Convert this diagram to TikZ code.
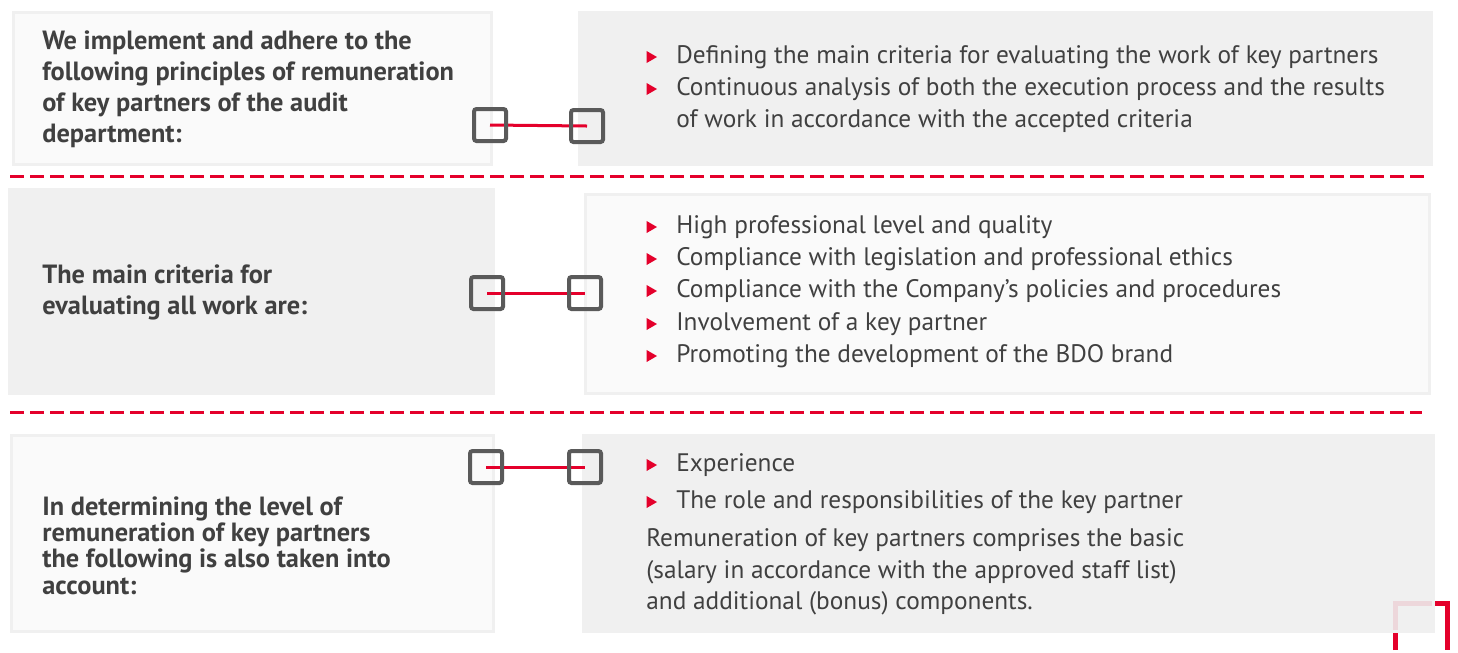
\documentclass[tikz,border=0pt]{standalone}
\usepackage{fontspec}
\setmainfont{PT Sans}
\usepackage{xcolor}
\usetikzlibrary{positioning,shapes.geometric}

\definecolor{bdored}{HTML}{E4002B}
\definecolor{txtgray}{HTML}{404040}
\definecolor{sqgray}{HTML}{5A5A5A}
\definecolor{panelgray}{HTML}{EFEFEF}
\definecolor{panelwhite}{HTML}{FAFAFA}

\pgfdeclarelayer{background}
\pgfdeclarelayer{links}
\pgfsetlayers{background,links,main}

\begin{document}
\begin{tikzpicture}[
    x=0.2mm, y=-0.2mm,
    every node/.style={text=txtgray},
    panel/.style={rectangle, draw=black!6, line width=0.6mm, anchor=north west, inner sep=0pt, fill opacity=0.9},
    lead/.style={font=\bfseries\fontsize{15}{17.8}\selectfont, align=left, anchor=north west, inner sep=0pt},
    item/.style={font=\fontsize{14.4}{18}\selectfont, anchor=base west, inner sep=0pt},
    para/.style={font=\fontsize{14.4}{18.1}\selectfont, align=left, anchor=north west, inner sep=0pt},
    tri/.style={regular polygon, regular polygon sides=3, rotate=-90, fill=bdored, inner sep=0pt, minimum size=2.8mm},
    linkbox/.style={rectangle, draw=sqgray, line width=0.8mm, rounded corners=0.5mm, minimum size=6.4mm, inner sep=0pt},
    link/.style={draw=bdored, line width=0.6mm},
    divider/.style={draw=bdored, line width=0.6mm, dash pattern=on 2.8mm off 1.2mm},
]
    \begin{pgfonlayer}{background}
    \fill[white] (0,0) rectangle (1458,650);
    % corner mark (bottom right)
    \draw[bdored, line width=1mm] (1395,650) -- (1395,603) -- (1447,603) -- (1447,650);

    % ROW 1
    \node[panel, fill=panelwhite, minimum width=95.6mm, minimum height=30.4mm] (left1) at (12,11) {};
    \node[panel, fill=panelgray, minimum width=170.4mm, minimum height=30.4mm] (right1) at (578,11) {};
    % ROW 2
    \node[panel, fill=panelgray, minimum width=96.8mm, minimum height=40.8mm] (left2) at (8,188) {};
    \node[panel, fill=panelwhite, minimum width=168.8mm, minimum height=39.8mm] (right2) at (584,193) {};
    % ROW 3
    \node[panel, fill=panelwhite, minimum width=96.4mm, minimum height=39.2mm] (left3) at (10,434) {};
    \node[panel, fill=panelgray, minimum width=170mm, minimum height=39.2mm] (right3) at (582,434) {};

    % dashed dividers
    \draw[divider] (10,176) -- (1425,176);
    \draw[divider] (10,412) -- (1422,412);
    \end{pgfonlayer}

    % link squares
    \node[linkbox] (sqL1) at (490,125) {};
    \node[linkbox] (sqR1) at (587,126) {};
    \node[linkbox] (sqL2) at (487,293) {};
    \node[linkbox] (sqR2) at (585,293) {};
    \node[linkbox] (sqL3) at (486,467) {};
    \node[linkbox] (sqR3) at (585,467) {};
    \begin{pgfonlayer}{links}
    \draw[link] (sqL1.center) -- (sqR1.center);
    \draw[link] (sqL2.center) -- (sqR2.center);
    \draw[link] (sqL3.center) -- (sqR3.center);
    \end{pgfonlayer}

    % ROW 1 texts
    \node[lead] (lead1) at (42,30) {We implement and adhere to the\\following principles of remuneration\\of key partners of the audit\\department:};
    \node[tri] (b11) at (650,57) {};
    \node[item] (i11) at (676,63) {Defining the main criteria for evaluating the work of key partners};
    \node[tri] (b12) at (650,89) {};
    \node[item] (i12) at (676,95) {Continuous analysis of both the execution process and the results};
    \node[item] (i13) at (676,127) {of work in accordance with the accepted criteria};

    % ROW 2 texts
    \node[lead] (lead2) at (42,264) {The main criteria for\\evaluating all work are:};
    \node[tri] (b21) at (650,227) {};
    \node[item] (i21) at (676,233) {High professional level and quality};
    \node[tri] (b22) at (650,259) {};
    \node[item] (i22) at (676,265) {Compliance with legislation and professional ethics};
    \node[tri] (b23) at (650,291) {};
    \node[item] (i23) at (676,297) {Compliance with the Company's policies and procedures};
    \node[tri] (b24) at (650,324) {};
    \node[item] (i24) at (676,330) {Involvement of a key partner};
    \node[tri] (b25) at (650,356) {};
    \node[item] (i25) at (676,362) {Promoting the development of the BDO brand};

    % ROW 3 texts
    \node[lead, font=\bfseries\fontsize{15}{15}\selectfont] (lead3) at (42,496) {In determining the level of\\remuneration of key partners\\the following is also taken into\\account:};
    \node[tri] (b31) at (650,465) {};
    \node[item] (i31) at (676,471) {Experience};
    \node[tri] (b32) at (650,502) {};
    \node[item] (i32) at (676,508) {The role and responsibilities of the key partner};
    \node[para] (note3) at (646,528) {Remuneration of key partners comprises the basic\\(salary in accordance with the approved staff list)\\and additional (bonus) components.};
\end{tikzpicture}
\end{document}
